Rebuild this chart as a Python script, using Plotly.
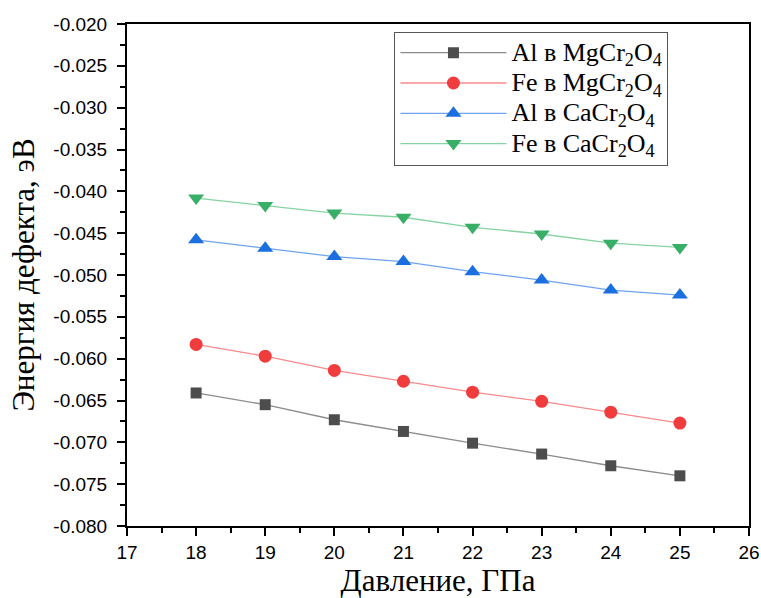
import plotly.graph_objects as go

pressure = [18, 19, 20, 21, 22, 23, 24, 25]
al_mg = [-0.0641, -0.0655, -0.0673, -0.0687, -0.0701, -0.0714, -0.0728, -0.0740]
fe_mg = [-0.0583, -0.0597, -0.0614, -0.0627, -0.0640, -0.0651, -0.0664, -0.0677]
al_ca = [-0.0458, -0.0468, -0.0478, -0.0484, -0.0496, -0.0506, -0.0518, -0.0524]
fe_ca = [-0.0408, -0.0417, -0.0426, -0.0431, -0.0443, -0.0451, -0.0462, -0.0467]

x_ticks = [17, 18, 19, 20, 21, 22, 23, 24, 25, 26]
y_ticks = [-0.080, -0.075, -0.070, -0.065, -0.060, -0.055, -0.050, -0.045,
           -0.040, -0.035, -0.030, -0.025, -0.020]
y_tick_labels = ["-0.080", "-0.075", "-0.070", "-0.065", "-0.060", "-0.055", "-0.050",
                 "-0.045", "-0.040", "-0.035", "-0.030", "-0.025", "-0.020"]

names = ["Al в MgCr<sub>2</sub>O<sub>4</sub>", "Fe в MgCr<sub>2</sub>O<sub>4</sub>",
         "Al в CaCr<sub>2</sub>O<sub>4</sub>", "Fe в CaCr<sub>2</sub>O<sub>4</sub>"]
series = [al_mg, fe_mg, al_ca, fe_ca]
line_colors = ["#8c8c8c", "#f78a8a", "#6fa3ef", "#86d3a2"]
marker_colors = ["#4d4d4d", "#f03c3c", "#1c6fe0", "#39ae66"]
symbols = ["square", "circle", "triangle-up", "triangle-down"]
sizes = [11, 13, 14, 14]

fig = go.Figure()
for n, ys, lc, mc, sy, sz in zip(names, series, line_colors, marker_colors, symbols, sizes):
    fig.add_trace(go.Scatter(
        x=pressure, y=ys, name='<span style="font-size:26px">' + n + '</span>',
        mode="lines+markers",
        line=dict(color=lc, width=1.3),
        marker=dict(symbol=sy, size=sz, color=mc, line=dict(width=0)),
    ))

axis_common = dict(
    showline=True, linecolor="black", linewidth=2, mirror=True,
    ticks="outside", ticklen=8, tickwidth=1.5, tickcolor="black",
    showgrid=False, zeroline=False, automargin=False, ticklabeloverflow="allow",
    tickfont=dict(family="Liberation Sans, Arial", size=19, color="black"),
)

fig.update_layout(
    width=761, height=598,
    margin=dict(l=127, r=12, t=24, b=72),
    paper_bgcolor="white", plot_bgcolor="white",
    font=dict(family="Liberation Serif, Times New Roman", color="black"),
    xaxis=dict(range=[17, 26], tickmode="array", tickvals=x_ticks,
               minor=dict(dtick=0.5, tick0=17, ticklen=5, ticks="outside", tickcolor="black", tickwidth=1.5),
               title=dict(text="Давление, ГПа", font=dict(size=31, family="Liberation Serif"), standoff=6),
               **axis_common),
    yaxis=dict(range=[-0.08, -0.02], tickmode="array", tickvals=y_ticks, ticktext=y_tick_labels,
               ticklabelstandoff=6,
               minor=dict(dtick=0.0025, tick0=-0.08, ticklen=5, ticks="outside", tickcolor="black", tickwidth=1.5),
               title=dict(text="Энергия дефекта, эВ", font=dict(size=31, family="Liberation Serif"), standoff=9),
               **axis_common),
    legend=dict(x=0.43, y=0.985, xanchor="left", yanchor="top",
                bordercolor="#555", borderwidth=1, bgcolor="white",
                font=dict(size=21, family="Liberation Serif", color="black"),
                itemwidth=106, tracegroupgap=0),
    showlegend=True,
)

fig.write_html("out.html")
